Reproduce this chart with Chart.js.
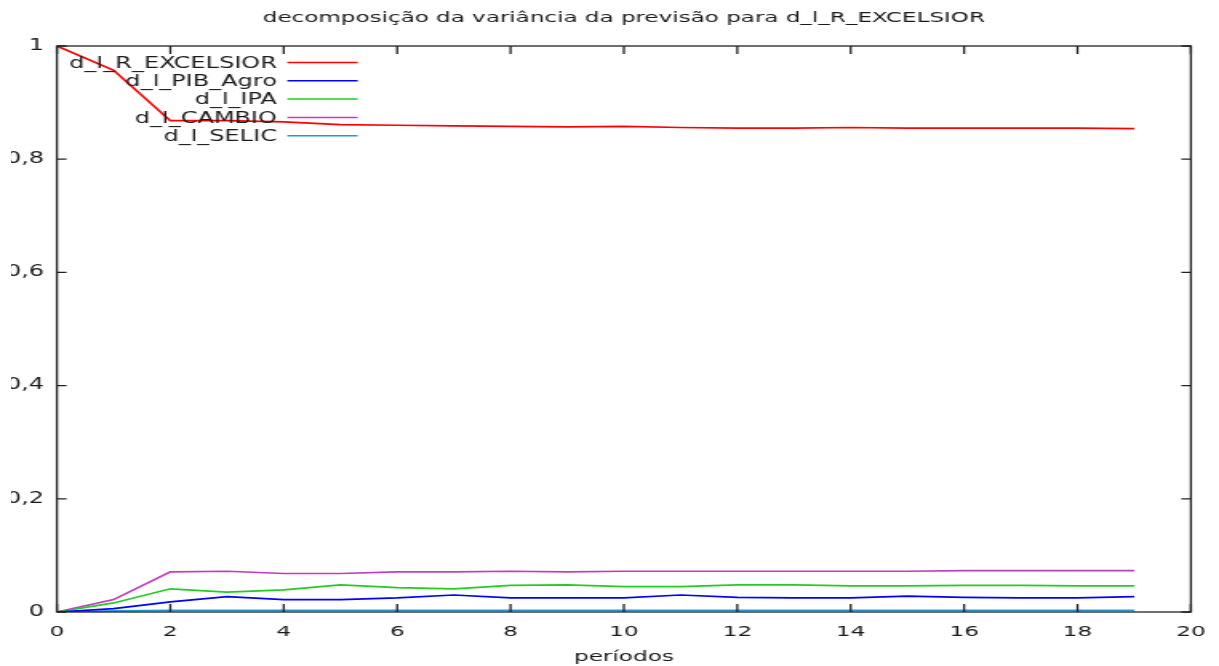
<!DOCTYPE html>
<html>
<head>
<meta charset="utf-8">
<script src="https://cdn.jsdelivr.net/npm/chart.js@4/dist/chart.umd.min.js"></script>
<style>
  html, body { margin: 0; padding: 0; background: #fff; }
  #clip { position: absolute; left: 11px; top: 0; width: 1208px; height: 666px; overflow: hidden; }
  #stretch { position: absolute; left: -11px; top: 0; width: 762px; height: 666px; transform: scaleX(1.59974); transform-origin: 0 0; }
</style>
</head>
<body>
<div id="clip"><div id="stretch"><canvas id="chart"></canvas></div></div>
<script>
const periods = [0, 1, 2, 3, 4, 5, 6, 7, 8, 9, 10, 11, 12, 13, 14, 15, 16, 17, 18, 19];

const excelsior = [1.000, 0.957, 0.868, 0.868, 0.866, 0.861, 0.860, 0.859, 0.858, 0.857, 0.858, 0.856, 0.855, 0.855, 0.856, 0.855, 0.855, 0.855, 0.855, 0.854];
const pibAgro = [0, 0.006, 0.018, 0.027, 0.022, 0.022, 0.025, 0.030, 0.025, 0.025, 0.025, 0.030, 0.026, 0.025, 0.025, 0.028, 0.026, 0.025, 0.025, 0.027];
const ipa = [0, 0.016, 0.041, 0.035, 0.039, 0.048, 0.043, 0.041, 0.047, 0.048, 0.045, 0.045, 0.048, 0.048, 0.046, 0.046, 0.047, 0.047, 0.046, 0.046];
const cambio = [0, 0.022, 0.071, 0.072, 0.068, 0.068, 0.071, 0.071, 0.072, 0.071, 0.072, 0.072, 0.072, 0.072, 0.072, 0.072, 0.073, 0.073, 0.073, 0.073];
const selic = [0, 0.002, 0.003, 0.003, 0.003, 0.003, 0.003, 0.003, 0.003, 0.003, 0.003, 0.003, 0.003, 0.003, 0.003, 0.003, 0.003, 0.003, 0.003, 0.003];

const seriesNames = ["d_l_R_EXCELSIOR", "d_l_PIB_Agro", "d_l_IPA", "d_l_CAMBIO", "d_l_SELIC"];
const seriesColors = ["#ff0000", "#0000ff", "#22cc22", "#c03cc0", "#1e9ad6"];
const chartTitle = "decomposição da variância da previsão para d_l_R_EXCELSIOR";
const xTitle = "períodos";

const FONT = "DejaVu Sans";
const TEXT = "#1a1a1a";

const toPoints = (vals) => vals.map((v, i) => ({ x: periods[i], y: v }));

// gnuplot-ish frame with inward ticks on all four sides
const framePlugin = {
  id: "frame",
  afterDatasetsDraw(chart) {
    const { ctx, chartArea: a, scales } = chart;
    ctx.save();
    ctx.strokeStyle = "#222";
    ctx.lineWidth = 1.3;
    ctx.strokeRect(a.left, a.top, a.right - a.left, a.bottom - a.top);
    ctx.beginPath();
    scales.x.ticks.forEach((t) => {
      const px = scales.x.getPixelForValue(t.value);
      ctx.moveTo(px, a.bottom); ctx.lineTo(px, a.bottom - 8);
      ctx.moveTo(px, a.top); ctx.lineTo(px, a.top + 8);
    });
    scales.y.ticks.forEach((t) => {
      const py = scales.y.getPixelForValue(t.value);
      ctx.moveTo(a.left, py); ctx.lineTo(a.left + 6, py);
      ctx.moveTo(a.right, py); ctx.lineTo(a.right - 6, py);
    });
    ctx.stroke();

    // title centred on the plot area
    ctx.fillStyle = TEXT;
    ctx.font = `14.4px "${FONT}"`;
    ctx.textAlign = "center";
    ctx.textBaseline = "middle";
    ctx.fillText(chartTitle, (a.left + a.right) / 2, 18);

    // key, top left inside the plot
    ctx.font = `15px "${FONT}"`;
    ctx.textAlign = "right";
    chart.data.datasets.forEach((ds, i) => {
      const y = a.top + 16.5 + i * 18.3;
      ctx.fillText(ds.label, a.left + 137.5, y + 1.5);
      ctx.strokeStyle = ds.borderColor;
      ctx.lineWidth = 1.5;
      ctx.beginPath();
      ctx.moveTo(a.left + 144, y);
      ctx.lineTo(a.left + 188, y);
      ctx.stroke();
    });
    ctx.restore();
  },
};

const allSeries = [excelsior, pibAgro, ipa, cambio, selic];

new Chart(document.getElementById("chart"), {
  type: "line",
  data: {
    datasets: allSeries.map((vals, i) => ({
      label: seriesNames[i],
      data: toPoints(vals),
      borderColor: seriesColors[i],
      backgroundColor: seriesColors[i],
      borderWidth: 1.7,
      pointRadius: 0,
      tension: 0,
      fill: false,
    })),
  },
  options: {
    animation: false,
    responsive: true,
    maintainAspectRatio: false,
    layout: { padding: { top: 46, right: 17.6, left: 0, bottom: 0 } },
    scales: {
      x: {
        type: "linear",
        min: 0,
        max: 20,
        grid: { display: false, drawTicks: false },
        border: { display: false },
        ticks: {
          stepSize: 2,
          padding: 12,
          color: TEXT,
          font: { family: FONT, size: 14.5 },
        },
        title: {
          display: true,
          text: xTitle,
          color: TEXT,
          font: { family: FONT, size: 14.5 },
          padding: { top: 2, bottom: 0 },
        },
        afterFit: (scale) => {
          scale.height = 54;
          scale.paddingLeft = 0;
          scale.paddingRight = 0;
        },
      },
      y: {
        min: 0,
        max: 1,
        grid: { display: false, drawTicks: false },
        border: { display: false },
        ticks: {
          stepSize: 0.2,
          padding: 8,
          color: TEXT,
          font: { family: FONT, size: 15 },
          callback: (v) => (v === 0 || v === 1 ? String(v) : v.toFixed(1).replace(".", ",")),
        },
        afterFit: (scale) => {
          scale.width = 35.6;
          scale.paddingTop = 0;
          scale.paddingBottom = 0;
        },
      },
    },
    plugins: {
      legend: { display: false },
      title: { display: false },
      tooltip: { enabled: false },
    },
  },
  plugins: [framePlugin],
});
</script>
</body>
</html>
